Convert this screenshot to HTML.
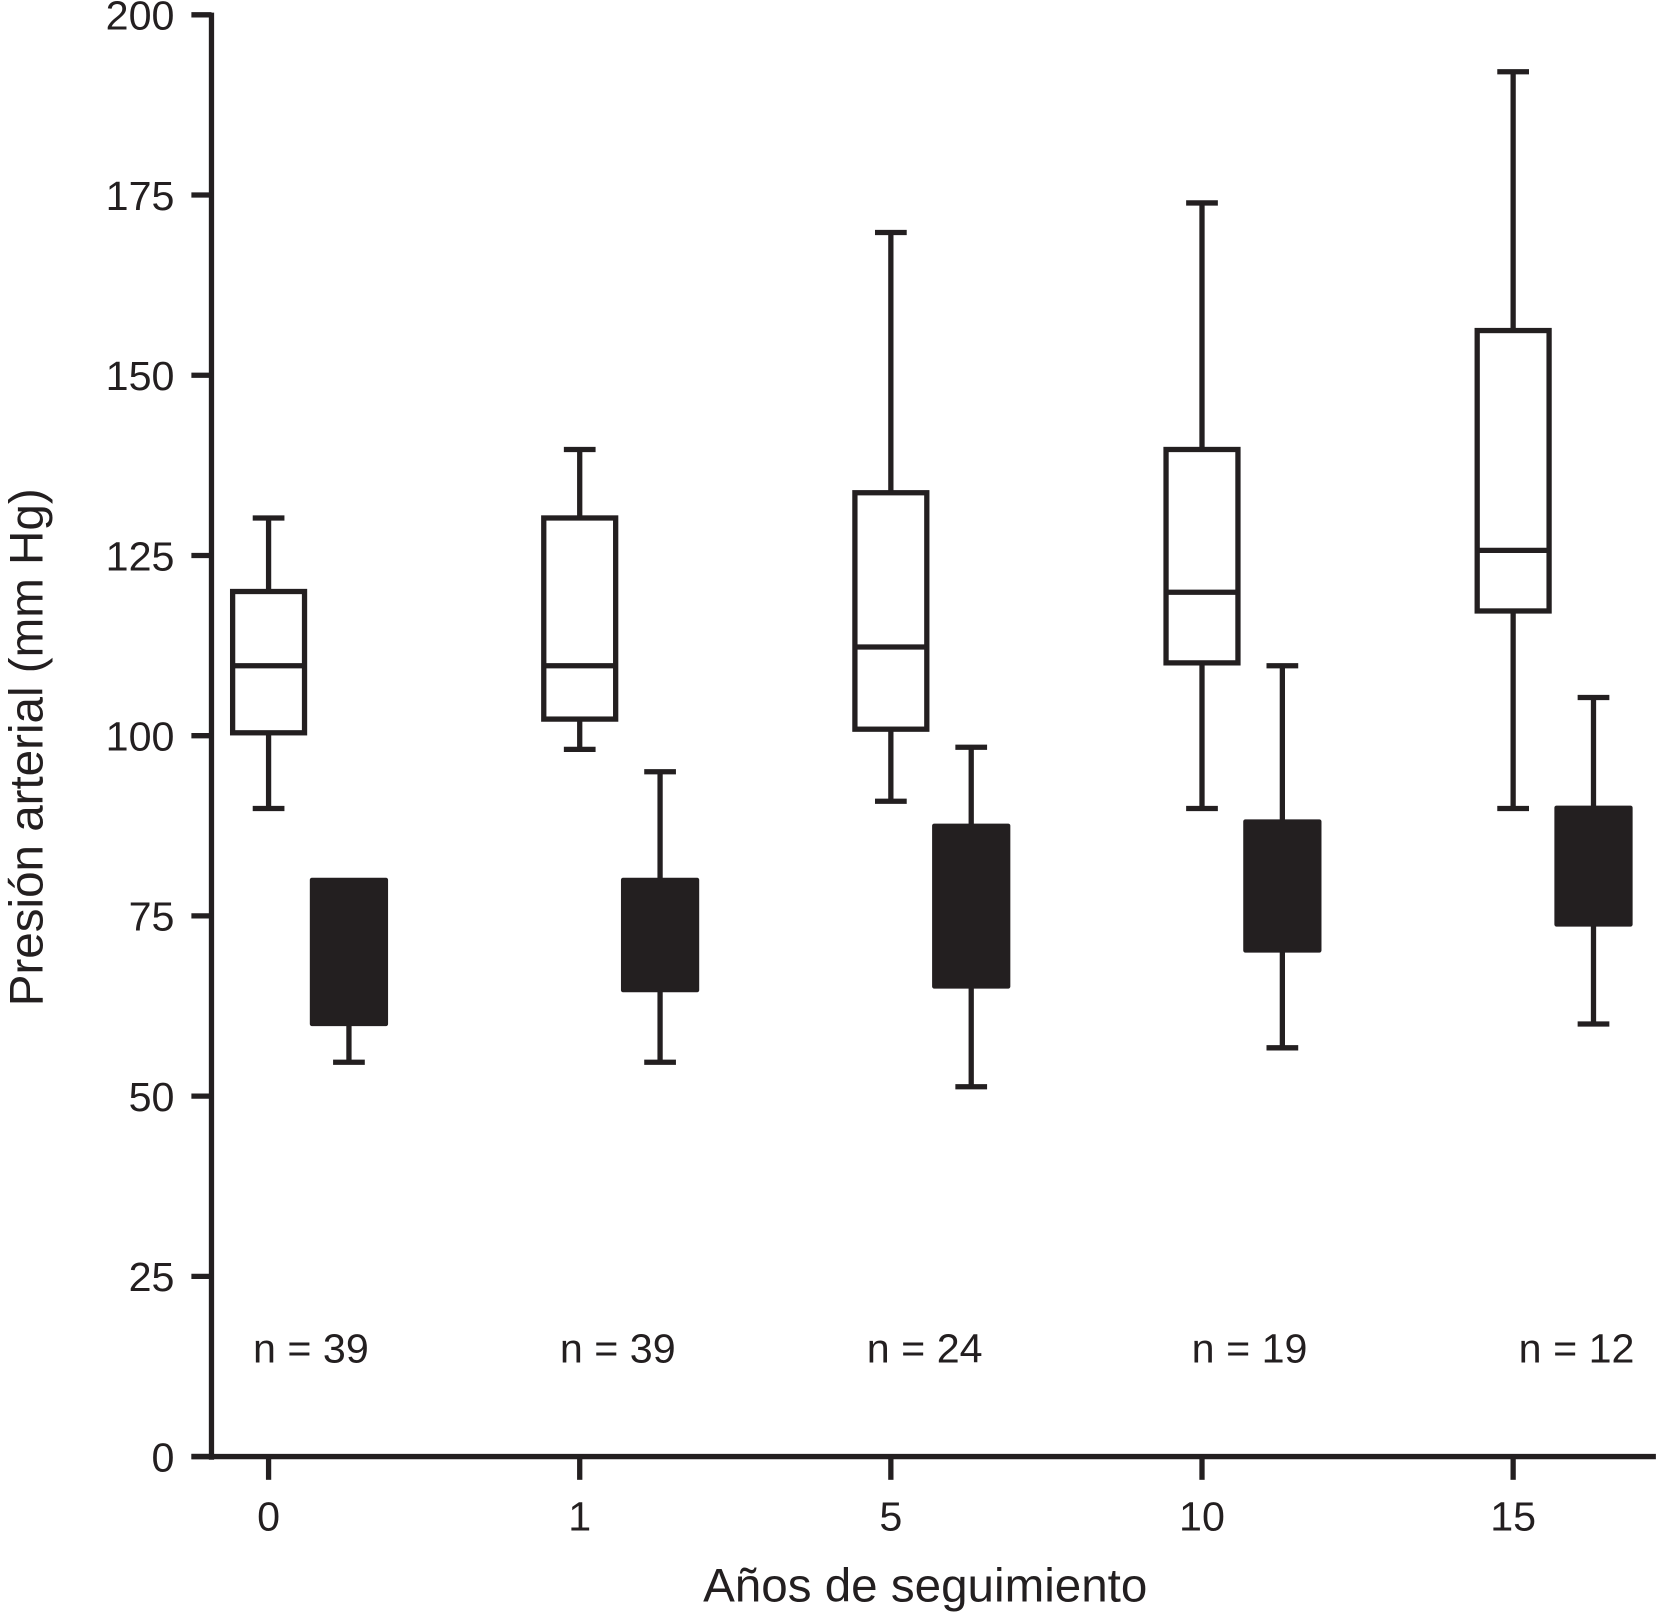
<!DOCTYPE html>
<html><head><meta charset="utf-8"><style>
html,body{margin:0;padding:0;background:#fff}
svg{display:block}
text{font-family:"Liberation Sans",sans-serif;fill:#231f20}
</style></head><body>
<svg id="chart" width="1658" height="1613" viewBox="0 0 1568 1526" preserveAspectRatio="none" xmlns="http://www.w3.org/2000/svg"></svg>
<script>
const categories = ["0","1","5","10","15"];
const nLabels = ["n = 39","n = 39","n = 24","n = 19","n = 12"];
// systolic (open boxes)
const sysLow = [89.9, 98.1, 90.9, 89.9, 89.9];
const sysQ1 = [100.4, 102.3, 100.9, 110.1, 117.3];
const sysMed = [109.7, 109.7, 112.3, 119.9, 125.7];
const sysQ3 = [120, 130.2, 133.7, 139.7, 156.2];
const sysHigh = [130.2, 139.7, 169.8, 173.9, 192.1];
// diastolic (filled boxes)
const diaLow = [54.7, 54.7, 51.3, 56.7, 60];
const diaQ1 = [60, 64.7, 65.2, 70.2, 73.8];
const diaQ3 = [80, 80, 87.5, 88.1, 90];
const diaHigh = [80, 95, 98.4, 109.7, 105.3];
const yTicks = [0,25,50,75,100,125,150,175,200];

// layout only: horizontal offset of each n-label from its tick
const nLabelDx = [40, 36, 32, 45, 60];

const C = "#231f20";
const svg = document.getElementById('chart');
const NS = "http://www.w3.org/2000/svg";
function y(v){ return 1378 - v*(1378-14)/200; }
function x(i){ return 254 + i*294.25; }
function el(tag, attrs, parent){
  const e = document.createElementNS(NS, tag);
  for (const k in attrs) e.setAttribute(k, attrs[k]);
  (parent||svg).appendChild(e); return e;
}
const ax = el('line',{x1:200,y1:12,x2:200,y2:1381,stroke:C,'stroke-width':5});


const bx = el('line',{x1:181,y1:1378,x2:1566,y2:1378,stroke:C,'stroke-width':5});


yTicks.forEach(t=>{
  const l = el('line',{x1:181,y1:y(t),x2:200,y2:y(t),stroke:C,'stroke-width':5});
  
  
  const tx = el('text',{x:165,y:y(t)+14,'text-anchor':'end','font-size':39});
  tx.textContent = t;
  
  
});
categories.forEach((c,i)=>{
  const l = el('line',{x1:x(i),y1:1378,x2:x(i),y2:1400,stroke:C,'stroke-width':5});
  
  
  const tx = el('text',{x:x(i),y:1448,'text-anchor':'middle','font-size':39});
  tx.textContent = c;
  
  
  const n = el('text',{x:x(i)+nLabelDx[i],y:1289,'text-anchor':'middle','font-size':39});
  n.textContent = nLabels[i];
  
  

  const g = el('g',{});
  
  
  const cx = x(i), hw = 34, cw = 15;
  el('line',{x1:cx,y1:y(sysHigh[i]),x2:cx,y2:y(sysQ3[i]),stroke:C,'stroke-width':5},g);
  el('line',{x1:cx-cw,y1:y(sysHigh[i]),x2:cx+cw,y2:y(sysHigh[i]),stroke:C,'stroke-width':5},g);
  el('line',{x1:cx,y1:y(sysLow[i]),x2:cx,y2:y(sysQ1[i]),stroke:C,'stroke-width':5},g);
  el('line',{x1:cx-cw,y1:y(sysLow[i]),x2:cx+cw,y2:y(sysLow[i]),stroke:C,'stroke-width':5},g);
  el('rect',{x:cx-hw,y:y(sysQ3[i]),width:2*hw,height:y(sysQ1[i])-y(sysQ3[i]),fill:'#fff',stroke:C,'stroke-width':5},g);
  el('line',{x1:cx-hw,y1:y(sysMed[i]),x2:cx+hw,y2:y(sysMed[i]),stroke:C,'stroke-width':5},g);

  const d = el('g',{});
  
  
  const dx = x(i)+76, dw = 37;
  el('line',{x1:dx,y1:y(diaHigh[i]),x2:dx,y2:y(diaQ3[i]),stroke:C,'stroke-width':5},d);
  if (diaHigh[i] > diaQ3[i]) el('line',{x1:dx-cw,y1:y(diaHigh[i]),x2:dx+cw,y2:y(diaHigh[i]),stroke:C,'stroke-width':5},d);
  el('line',{x1:dx,y1:y(diaLow[i]),x2:dx,y2:y(diaQ1[i]),stroke:C,'stroke-width':5},d);
  el('line',{x1:dx-cw,y1:y(diaLow[i]),x2:dx+cw,y2:y(diaLow[i]),stroke:C,'stroke-width':5},d);
  el('rect',{x:dx-dw,y:y(diaQ3[i])-2,width:2*dw,height:y(diaQ1[i])-y(diaQ3[i])+4,fill:C,rx:2},d);
});
const yt = el('text',{x:0,y:0,'text-anchor':'middle','font-size':45,transform:'translate(40,707) rotate(-90)'});
yt.textContent = 'Presión arterial (mm Hg)';


const xt = el('text',{x:875,y:1515,'text-anchor':'middle','font-size':45});
xt.textContent = 'Años de seguimiento';


</script>
</body></html>
